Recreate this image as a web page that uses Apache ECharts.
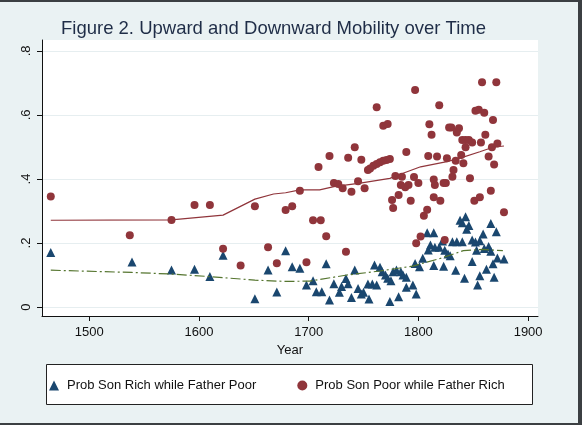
<!DOCTYPE html>
<html>
<head>
<meta charset="utf-8">
<script src="https://cdn.jsdelivr.net/npm/echarts@6/dist/echarts.min.js"></script>
<style>
html,body{margin:0;padding:0;}
#frame{position:absolute;left:0;top:0;width:582px;height:425px;background:#3b3f42;}
#chart{position:absolute;left:0;top:2px;width:578px;height:421px;background:#eaf2f3;}
</style>
</head>
<body>
<div id="frame"><div id="chart"></div></div>
<script>
// Prob Son Rich while Father Poor (triangles): [year, probability]
const richWhilePoor = [
[1465,.170],[1539,.141],[1575,.116],[1596,.118],[1610,.095],[1622,.162],[1651,.026],[1663,.116],
[1671,.047],[1679,.176],[1685,.126],[1692,.121],[1698,.069],[1704,.082],[1707,.048],[1712,.048],
[1716,.135],[1719,.022],[1723,.073],[1728,.046],[1730,.064],[1734,.089],[1736,.073],[1739,.030],
[1742,.116],[1745,.058],[1748,.041],[1750,.046],[1754,.072],[1755,.025],[1758,.072],[1760,.131],
[1762,.069],[1765,.124],[1767,.110],[1770,.100],[1772,.090],[1774,.017],[1775,.082],[1777,.110],
[1780,.116],[1782,.032],[1784,.110],[1786,.100],[1789,.062],[1789,.093],[1795,.069],[1797,.136],
[1798,.041],[1801,.126],[1804,.152],[1808,.232],[1809,.178],[1811,.194],[1814,.232],[1814,.130],
[1815,.187],[1819,.187],[1822,.206],[1823,.127],[1824,.177],[1827,.166],[1829,.160],[1831,.204],
[1834,.115],[1835,.204],[1838,.271],[1840,.204],[1840,.263],[1842,.090],[1843,.282],[1844,.243],
[1846,.255],[1849,.209],[1849,.142],[1852,.203],[1853,.177],[1854,.069],[1856,.207],[1856,.098],
[1859,.228],[1860,.183],[1862,.118],[1864,.189],[1866,.174],[1866,.261],[1868,.135],[1869,.093],
[1871,.235],[1872,.153],[1878,.150]
];
// Prob Son Poor while Father Rich (circles): [year, probability]
const poorWhileRich = [
[1465,.345],[1537,.224],[1575,.272],[1596,.319],[1610,.319],[1622,.182],[1638,.130],[1651,.315],
[1663,.187],[1671,.137],[1679,.303],[1685,.315],[1692,.363],[1698,.140],[1704,.271],[1709,.437],
[1711,.271],[1716,.221],[1719,.472],[1723,.387],[1727,.384],[1731,.371],[1734,.173],[1736,.466],
[1739,.360],[1742,.499],[1745,.393],[1748,.460],[1751,.371],[1754,.428],[1756,.433],[1759,.441],
[1762,.447],[1762,.624],[1765,.452],[1768,.566],[1768,.457],[1771,.459],[1772,.572],[1774,.462],
[1776,.334],[1777,.309],[1779,.409],[1782,.350],[1785,.407],[1784,.381],[1788,.374],[1789,.484],
[1791,.381],[1793,.332],[1796,.406],[1797,.678],[1798,.199],[1800,.387],[1802,.220],[1805,.285],
[1808,.304],[1809,.472],[1810,.571],[1812,.538],[1814,.343],[1814,.398],[1815,.381],[1817,.470],
[1819,.630],[1820,.332],[1824,.209],[1823,.387],[1825,.387],[1826,.465],[1828,.561],[1830,.561],
[1831,.407],[1832,.428],[1834,.457],[1835,.545],[1837,.558],[1839,.475],[1840,.522],[1841,.449],
[1843,.522],[1843,.499],[1846,.522],[1847,.402],[1849,.514],[1851,.332],[1852,.613],[1855,.616],
[1856,.343],[1857,.514],[1858,.702],[1860,.607],[1861,.538],[1864,.470],[1866,.363],[1867,.499],
[1868,.584],[1869,.445],[1871,.702],[1872,.511],[1878,.296]
];
// Smoothed (lowess) trend of poor-while-rich
const poorWhileRichTrend = [
[1465,.271],[1575,.272],[1622,.287],[1651,.337],[1668,.353],[1679,.357],[1692,.366],[1710,.366],
[1723,.376],[1747,.387],[1774,.402],[1786,.418],[1802,.438],[1826,.454],[1838,.465],[1856,.485],
[1868,.499],[1878,.503]
];
// Smoothed (lowess) trend of rich-while-poor
const richWhilePoorTrend = [
[1465,.115],[1539,.108],[1575,.103],[1610,.095],[1651,.084],[1679,.080],[1701,.081],[1735,.100],
[1765,.1125],[1795,.128],[1820,.152],[1841,.176],[1859,.180],[1877,.176]
];
const xTicks = [1500,1600,1700,1800,1900];
const yTicks = [0,0.2,0.4,0.6,0.8];
const titleText = 'Figure 2. Upward and Downward Mobility over Time';
const seriesNames = ['Prob Son Rich while Father Poor','Prob Son Poor while Father Rich'];

const NAVY = '#1a476f', MAROON = '#90353b', GREEN = '#55752f';
const FONT = 'Liberation Sans, Arial, sans-serif';

const chart = echarts.init(document.getElementById('chart'), null, {renderer:'canvas'});
chart.setOption({
  animation:false,
  backgroundColor:'#eaf2f3',
  title:{
    text:titleText, left:56, top:12,
    textStyle:{fontFamily:FONT, fontSize:18.5, fontWeight:'normal', color:'#1f2d47'}
  },
  graphic:[{
    type:'rect', left:46, top:362, shape:{width:486, height:40},
    style:{fill:'#fff', stroke:'#222', lineWidth:1}, z:-1
  }],
  legend:{
    left:44, top:372, itemWidth:10, itemHeight:10, itemGap:41,
    data:seriesNames,
    textStyle:{fontFamily:FONT, fontSize:13, color:'#111', padding:[0,0,0,3]}
  },
  grid:{
    left:42, right:40, top:38, bottom:107,
    show:true, backgroundColor:'#fff', borderWidth:0
  },
  xAxis:{
    type:'value', min:1457, max:1909,
    name:'Year', nameLocation:'middle', nameGap:26,
    nameTextStyle:{fontFamily:FONT, fontSize:13, color:'#111'},
    axisLine:{show:true, onZero:false, lineStyle:{color:'#111', width:1}},
    axisTick:{show:true, length:5, customValues:xTicks, lineStyle:{color:'#111'}},
    axisLabel:{customValues:xTicks, margin:10, fontFamily:FONT, fontSize:13, color:'#111',
      formatter:v=>String(v)},
    splitLine:{show:false}
  },
  yAxis:{
    type:'value', min:-0.028, max:0.834,
    axisLine:{show:true, onZero:false, lineStyle:{color:'#111', width:1}},
    axisTick:{show:true, length:5, customValues:yTicks, lineStyle:{color:'#111'}},
    axisLabel:{customValues:yTicks, rotate:90, margin:9, fontFamily:FONT, fontSize:13, color:'#111',
      formatter:v=> v===0 ? '0' : String(+v.toFixed(1)).replace(/^0\./,'.')},
    splitLine:{show:true, lineStyle:{color:'#e6eef0', width:1}}
  },
  series:[
    {name:seriesNames[0], type:'scatter', symbol:'triangle', symbolSize:9,
     itemStyle:{color:NAVY, opacity:1}, data:richWhilePoor, z:2},
    {name:seriesNames[1], type:'scatter', symbol:'circle', symbolSize:8,
     itemStyle:{color:MAROON, opacity:1}, data:poorWhileRich, z:2},
    {name:'trendRed', type:'line', showSymbol:false, symbol:'none', data:poorWhileRichTrend,
     lineStyle:{color:MAROON, width:1.2}, z:3},
    {name:'trendGreen', type:'line', showSymbol:false, symbol:'none', data:richWhilePoorTrend,
     lineStyle:{color:GREEN, width:1.2, type:[10,3,2,3]}, z:3}
  ]
});
</script>
</body>
</html>
